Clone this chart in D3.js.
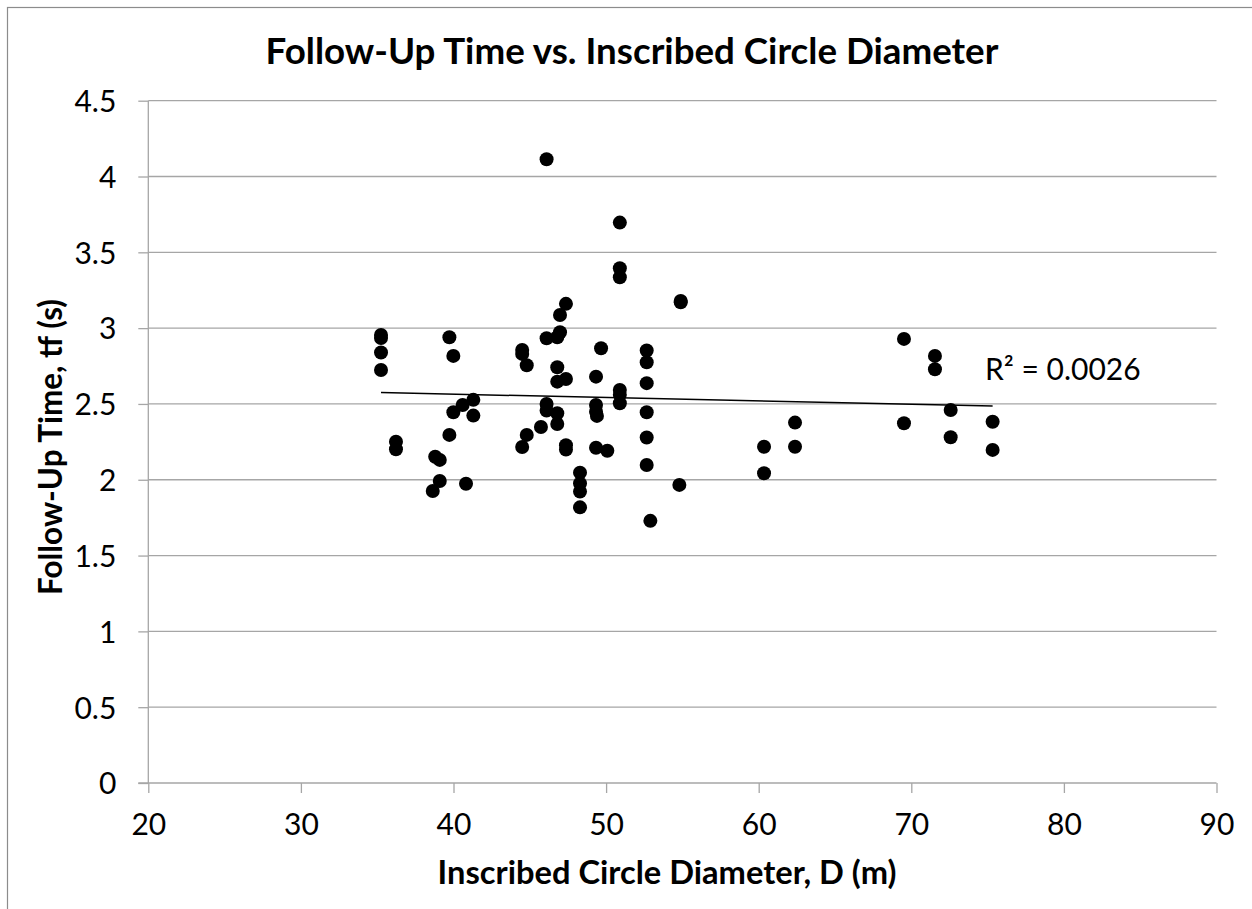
<!DOCTYPE html>
<html>
<head>
<meta charset="utf-8">
<script src="https://cdn.jsdelivr.net/npm/d3@7"></script>
<style>
  html, body { margin: 0; padding: 0; background: #fff; }
  svg { display: block; }
  text { font-family: Lato, "Open Sans", sans-serif; fill: #000; }
</style>
</head>
<body>
<svg id="chart" width="1252" height="909"></svg>
<script>
// ---- data ----
const chartTitle = "Follow-Up Time vs. Inscribed Circle Diameter";
const xTitle = "Inscribed Circle Diameter, D (m)";
const yTitle = "Follow-Up Time, tf (s)";
const r2Label = "R² = 0.0026";
const xTicks = [20, 30, 40, 50, 60, 70, 80, 90];
const yTicks = [0, 0.5, 1, 1.5, 2, 2.5, 3, 3.5, 4, 4.5];
const diameterD = [
  35.25, 35.25, 35.25, 35.25,
  36.23, 36.23,
  38.64, 38.8, 39.1, 39.1,
  39.73, 39.73, 39.99, 39.99,
  40.6, 40.82, 41.3, 41.3,
  44.5, 44.5, 44.5, 44.8, 44.8, 45.73,
  46.1, 46.1, 46.1, 46.1,
  46.8, 46.8, 46.8, 46.8, 46.8,
  46.98, 46.98,
  47.37, 47.37, 47.37, 47.37,
  48.29, 48.29, 48.29, 48.29,
  49.34, 49.34, 49.34, 49.4, 49.34, 49.67, 50.08,
  50.9, 50.9, 50.9, 50.9, 50.9, 50.9,
  52.66, 52.66, 52.66, 52.66, 52.66, 52.66, 52.9,
  54.89, 54.89, 54.8,
  60.35, 60.35, 62.38, 62.38,
  69.52, 69.52, 71.55, 71.55, 72.58, 72.58, 75.33, 75.33
];
const followUpTf = [
  2.955, 2.935, 2.839, 2.724,
  2.251, 2.201,
  1.926, 2.152, 2.131, 1.992,
  2.94, 2.296, 2.817, 2.445,
  2.493, 1.974, 2.527, 2.423,
  2.856, 2.83, 2.216, 2.755, 2.296, 2.348,
  4.114, 2.933, 2.5, 2.456,
  2.94, 2.742, 2.647, 2.439, 2.368,
  2.973, 3.087,
  3.16, 2.665, 2.228, 2.199,
  2.047, 1.975, 1.922, 1.818,
  2.68, 2.493, 2.449, 2.421, 2.211, 2.867, 2.191,
  3.696, 3.395, 3.336, 2.592, 2.56, 2.505,
  2.852, 2.775, 2.637, 2.445, 2.279, 2.097, 1.729,
  3.179, 3.17, 1.966,
  2.218, 2.043, 2.377, 2.218,
  2.929, 2.373, 2.817, 2.729, 2.46, 2.28, 2.383, 2.197
];
// linear trendline coefficients (tf = a*D + b)
const trendSlope = -0.0022;
const trendIntercept = 2.6525;

// ---- layout ----
const svg = d3.select("#chart");
const plotL = 148.3, plotR = 1216.5, plotT = 100.7, plotB = 783;
const x = d3.scaleLinear().domain([20, 90]).range([plotL, plotR]);
const y = d3.scaleLinear().domain([0, 4.5]).range([plotB, plotT]);
const gridColor = "#a6a6a6";

// outer chart border (only left/top visible in the crop)
svg.append("rect")
  .attr("x", 7.5).attr("y", 7.5)
  .attr("width", 1400).attr("height", 1100)
  .attr("fill", "none").attr("stroke", "#8c8c8c").attr("stroke-width", 1.2);

// horizontal gridlines
svg.append("g").selectAll("line").data(yTicks.filter(d => d > 0)).join("line")
  .attr("x1", plotL).attr("x2", plotR)
  .attr("y1", d => y(d)).attr("y2", d => y(d))
  .attr("stroke", gridColor).attr("stroke-width", 1.3);

// y axis
const yAxis = d3.axisLeft(y).tickValues(yTicks).tickSize(10).tickPadding(22)
  .tickFormat(d => d3.format("")(d));
const gy = svg.append("g").attr("transform", `translate(${plotL},0)`).call(yAxis);
gy.select(".domain").attr("stroke", gridColor).attr("stroke-width", 1.3).attr("d", `M0,${plotT}V${plotB}`);
gy.selectAll(".tick line").attr("stroke", gridColor).attr("stroke-width", 1.3);
gy.selectAll(".tick text").style("font-size", "30px").attr("dy", "0.36em");

// x axis
const xAxis = d3.axisBottom(x).tickValues(xTicks).tickSize(10).tickPadding(21);
const gx = svg.append("g").attr("transform", `translate(0,${plotB})`).call(xAxis);
gx.select(".domain").attr("stroke", gridColor).attr("stroke-width", 1.3).attr("d", `M${plotL - 10},0H${plotR}`);
gx.selectAll(".tick line").attr("stroke", gridColor).attr("stroke-width", 1.3);
gx.selectAll(".tick text").style("font-size", "30px");

// data points
const pts = diameterD.map((d, i) => ({ d, t: followUpTf[i] }));
svg.append("g").selectAll("circle").data(pts).join("circle")
  .attr("cx", p => x(p.d)).attr("cy", p => y(p.t)).attr("r", 7)
  .attr("fill", "#000");

// linear trendline over the data's x range
const [xmin, xmax] = d3.extent(diameterD);
svg.append("line")
  .attr("x1", x(xmin)).attr("y1", y(trendIntercept + trendSlope * xmin))
  .attr("x2", x(xmax)).attr("y2", y(trendIntercept + trendSlope * xmax))
  .attr("stroke", "#000").attr("stroke-width", 1.5);

svg.append("text").attr("x", 985).attr("y", 380)
  .style("font-size", "30px").text(r2Label);

// titles (fit to measured widths)
function fit(sel, w) {
  const len = sel.node().getComputedTextLength();
  const fs = parseFloat(sel.style("font-size"));
  sel.style("font-size", (fs * w / len) + "px");
}
const t = svg.append("text").attr("x", 632).attr("y", 64).attr("text-anchor", "middle")
  .style("font-size", "30px").style("font-weight", "bold").text(chartTitle);
fit(t, 733);
const xt = svg.append("text").attr("x", 667).attr("y", 884).attr("text-anchor", "middle")
  .style("font-size", "26px").style("font-weight", "bold").text(xTitle);
fit(xt, 459);
const yt = svg.append("text").attr("transform", "translate(62,447) rotate(-90)").attr("text-anchor", "middle")
  .style("font-size", "26px").style("font-weight", "bold").text(yTitle);
fit(yt, 296);
</script>
</body>
</html>
